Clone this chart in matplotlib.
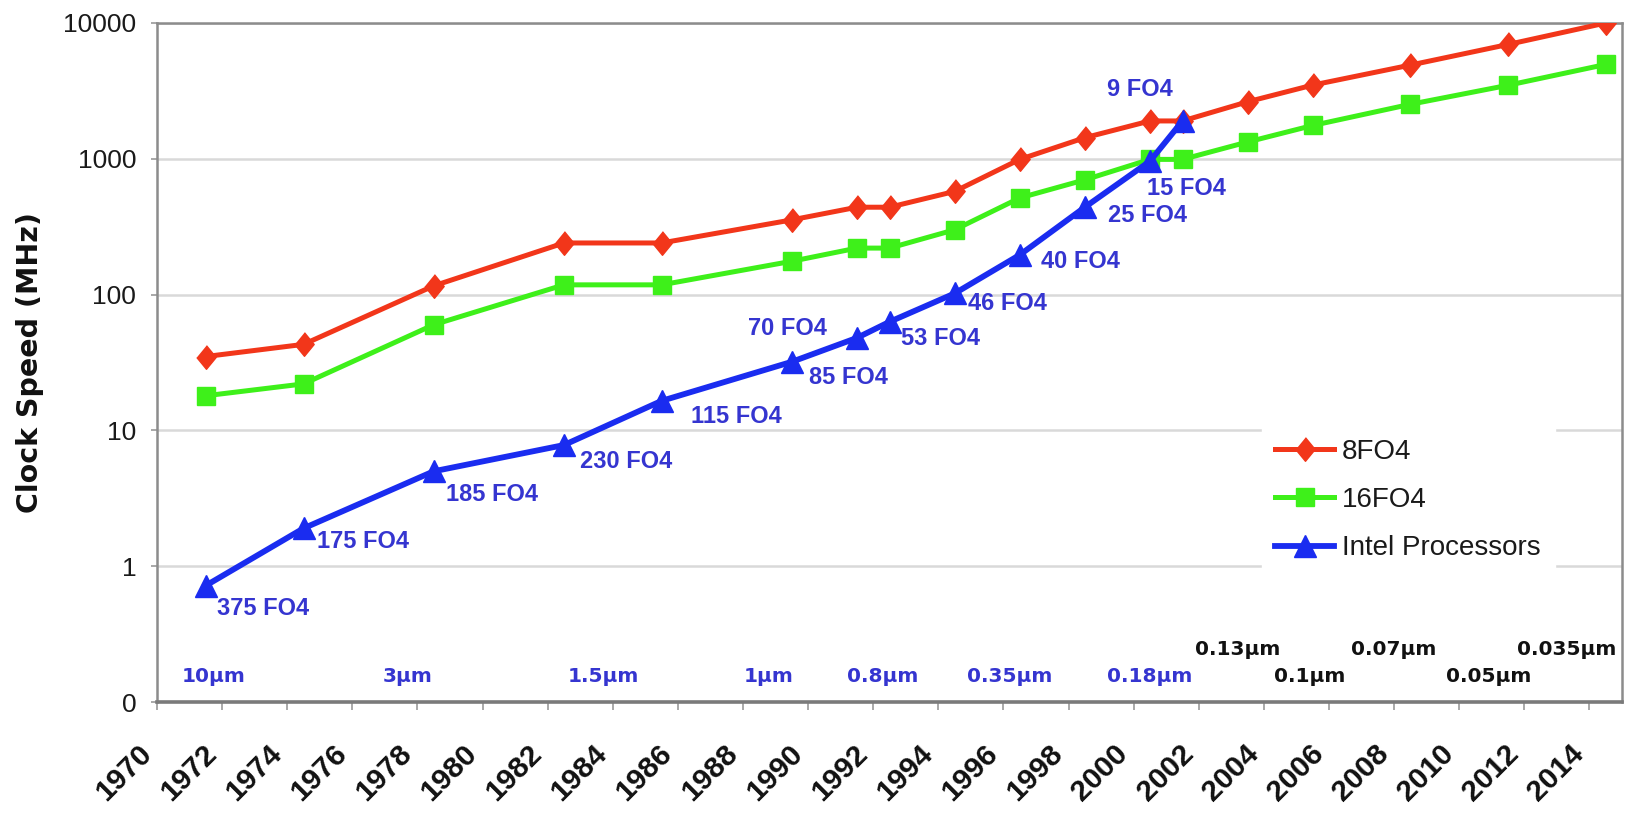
import numpy as np
import matplotlib.pyplot as plt
from matplotlib.ticker import FixedLocator, NullLocator
import matplotlib.transforms as mtransforms

# clock speed (MHz) at a fixed pipeline depth, per year
years = [1971, 1974, 1978, 1982, 1985, 1989, 1991, 1992, 1994, 1996, 1998,
         2000, 2001, 2003, 2005, 2008, 2011, 2014]
fo4_8 = [35, 43, 116, 240, 240, 355, 440, 440, 575, 990, 1430,
         1900, 1900, 2630, 3490, 4900, 6950, 10000]
fo4_16 = [18, 22, 60, 118, 118, 176, 220, 220, 300, 515, 700,
          990, 990, 1330, 1760, 2520, 3480, 4950]

# Intel processors: clock speed and cycle time in FO4
intel_years = years[:13]
intel_mhz = [0.72, 1.9, 5.0, 7.8, 16.5, 32, 48, 63, 102, 196, 440, 960, 1900]
intel_fo4 = [375, 175, 185, 230, 115, 85, 70, 53, 46, 40, 25, 15, 9]

# process technology nodes
node_names = ["10µm", "3µm", "1.5µm", "1µm", "0.8µm", "0.35µm", "0.18µm",
              "0.13µm", "0.1µm", "0.07µm", "0.05µm", "0.035µm"]
node_years = [1971.75, 1977.7, 1983.7, 1988.8, 1992.3, 1996.2, 2000.5,
              2003.2, 2005.4, 2008.0, 2010.9, 2013.3]

RED = "#f2361a"
GREEN = "#3ef01a"
BLUE = "#1a2cf0"
LABEL_BLUE = "#3535d0"

fig = plt.figure(figsize=(16.27, 8.15), dpi=100)
ax = fig.add_axes([157 / 1627, 1 - 702 / 815, 1465 / 1627, 679 / 815])

# points sit in the middle of their year slot
x8 = np.array(years) + 0.5
xi = np.array(intel_years) + 0.5

diamond = [(0, 1), (0.82, 0), (0, -1), (-0.82, 0)]
ax.plot(x8, fo4_8, color=RED, lw=3.6, marker=diamond, ms=17,
        label="8FO4", zorder=3)
ax.plot(x8, fo4_16, color=GREEN, lw=3.6, marker="s", ms=13.5,
        label="16FO4", zorder=3)
ax.plot(xi, intel_mhz, color=BLUE, lw=4.2, marker="^", ms=15.5,
        label="Intel Processors", zorder=4)

# FO4 annotations next to each Intel point (offsets in points)
offsets = [(8, -16.5, "left"), (10, -9.5, "left"), (8.5, -16.5, "left"),
           (11.5, -12, "left"), (21, -11, "left"), (12, -11, "left"),
           (-50, 7, "center"), (8, -12, "left"), (9.5, -7, "left"),
           (15, -5, "left"), (16.5, -6, "left"), (-2, -20, "left"),
           (-31, 23, "center")]
for x, y, f, (dx, dy, ha) in zip(xi, intel_mhz, intel_fo4, offsets):
    ax.annotate(f"{f} FO4", (x, y), xytext=(dx, dy), textcoords="offset points",
                ha=ha, va="center", color=LABEL_BLUE, fontsize=17,
                fontweight="bold", family="Liberation Sans", zorder=5)

# process node labels along the bottom
trans = mtransforms.blended_transform_factory(ax.transData, ax.transAxes)
for i, (name, yr) in enumerate(zip(node_names, node_years)):
    if i < 7:
        color, ypos = LABEL_BLUE, 0.0373
    else:
        color = "#111111"
        ypos = 0.0766 if (i - 7) % 2 == 0 else 0.0373
    ax.text(yr, ypos, name, transform=trans, ha="center", va="center",
            color=color, fontsize=14.5, fontweight="bold", family="DejaVu Sans")

ax.set_yscale("log")
ax.set_ylim(0.1, 10000)
ax.set_xlim(1970, 2015)

ax.yaxis.set_major_locator(FixedLocator([0.1, 1, 10, 100, 1000, 10000]))
ax.yaxis.set_minor_locator(NullLocator())
ax.set_yticklabels(["0", "1", "10", "100", "1000", "10000"],
                   family="Liberation Sans", fontsize=19, color="#1a1a1a")

xt = list(range(1970, 2015, 2))
ax.set_xticks(xt)
ax.set_xticklabels([str(t) for t in xt], rotation=45, ha="right", va="top",
                   family="Liberation Sans", fontsize=21.5, fontweight="bold",
                   color="#111111")

ax.tick_params(axis="x", length=6, width=1.2, color="#999999", pad=21)
ax.tick_params(axis="y", length=4, width=1.2, color="#999999", pad=11)

ax.grid(axis="y", color="#d9d9d9", lw=1.8, zorder=0)
ax.set_axisbelow(True)
for side, sp in ax.spines.items():
    sp.set_color("#8c8c8c")
    sp.set_linewidth(1.8)
ax.spines["bottom"].set_linewidth(2.6)
ax.spines["bottom"].set_color("#7a7a7a")

ax.set_ylabel("Clock Speed (MHz)", fontsize=20.5, fontweight="bold",
              family="DejaVu Sans", color="#111111", labelpad=14)

leg = ax.legend(loc="upper left", bbox_to_anchor=(0.754, 0.408),
                frameon=True, fancybox=False, framealpha=1, edgecolor="white",
                prop={"family": "Liberation Sans", "size": 20},
                handlelength=2.1, handletextpad=0.3, labelspacing=0.8,
                borderpad=0.5, borderaxespad=0)
for t in leg.get_texts():
    t.set_color("#1a1a1a")

fig.savefig("out.png", dpi=100, facecolor="white")
